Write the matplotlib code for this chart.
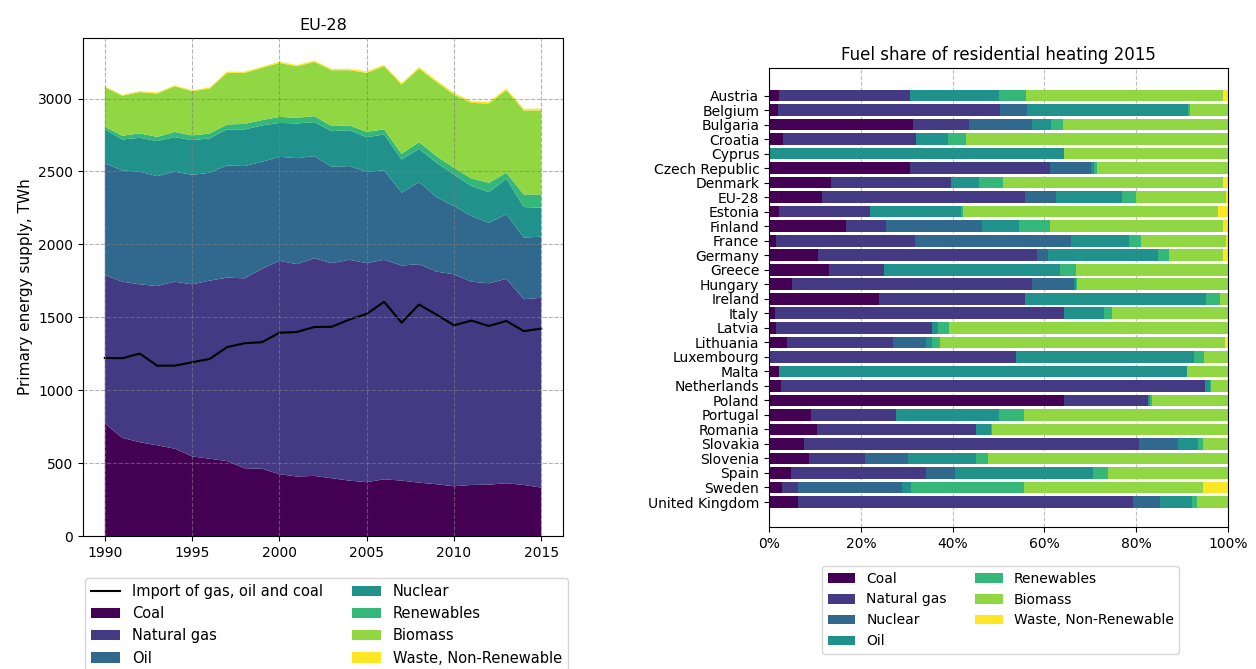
import matplotlib
matplotlib.use("Agg")
import matplotlib.pyplot as plt
import numpy as np
from matplotlib.ticker import PercentFormatter
from matplotlib.patches import Patch
from matplotlib.lines import Line2D

plt.rcParams['font.family'] = ['DejaVu Sans']

# ---- EU-28 primary energy supply (TWh) ----
years = list(range(1990, 2016))
coal = [772, 673, 643, 622, 599, 546, 530, 514, 465, 461, 424, 408, 412,
        396, 380, 369, 389, 380, 366, 355, 341, 350, 352, 362, 350, 332]
natural_gas = [1018, 1071, 1083, 1092, 1145, 1180, 1221, 1258, 1302, 1371, 1463, 1456, 1493,
               1475, 1514, 1502, 1505, 1475, 1498, 1458, 1454, 1394, 1381, 1401, 1274, 1302]
oil = [765, 763, 772, 754, 754, 751, 740, 769, 770, 734, 713, 727, 700,
       661, 643, 627, 613, 499, 563, 511, 468, 450, 415, 443, 422, 419]
nuclear = [233, 212, 233, 240, 237, 238, 235, 247, 251, 249, 233, 238, 233,
           244, 246, 237, 246, 228, 228, 235, 216, 206, 210, 244, 210, 198]
renewables = [18, 26, 30, 29, 36, 32, 34, 34, 38, 37, 41, 39, 41,
              35, 32, 37, 35, 39, 46, 46, 46, 52, 64, 41, 86, 91]
biomass = [272, 274, 283, 297, 313, 303, 308, 354, 350, 358, 370, 353, 372,
           383, 379, 404, 433, 475, 504, 509, 502, 518, 544, 566, 576, 576]
waste = [6, 6, 7, 7, 7, 7, 8, 8, 8, 8, 9, 9, 9,
         9, 10, 10, 10, 10, 11, 11, 11, 12, 12, 12, 12, 12]
imports = [1221, 1219, 1251, 1168, 1168, 1191, 1214, 1295, 1322, 1329, 1394, 1399, 1433,
           1435, 1484, 1523, 1606, 1463, 1587, 1518, 1445, 1477, 1440, 1475, 1405, 1422]

supply_labels = ["Coal", "Natural gas", "Oil", "Nuclear", "Renewables", "Biomass",
                 "Waste, Non-Renewable"]

# ---- Fuel share of residential heating 2015 (%) ----
countries = ["Austria", "Belgium", "Bulgaria", "Croatia", "Cyprus", "Czech Republic",
             "Denmark", "EU-28", "Estonia", "Finland", "France", "Germany", "Greece",
             "Hungary", "Ireland", "Italy", "Latvia", "Lithuania", "Luxembourg", "Malta",
             "Netherlands", "Poland", "Portugal", "Romania", "Slovakia", "Slovenia",
             "Spain", "Sweden", "United Kingdom"]
share_coal = [2.2, 1.9, 31.3, 3.1, 0, 30.8, 13.6, 11.5, 2.2, 16.8, 1.5, 10.7, 13.1, 5.1, 24.0,
              1.3, 1.5, 4.0, 0, 2.2, 2.5, 64.3, 9.1, 10.4, 7.7, 8.7, 4.8, 2.8, 6.4]
share_gas = [28.6, 48.5, 12.3, 28.9, 0, 30.4, 26.0, 44.2, 19.9, 8.6, 30.4, 47.7, 11.9, 52.1, 31.8,
             62.9, 34.1, 23.1, 53.7, 0, 92.4, 18.3, 18.5, 34.6, 72.9, 12.1, 29.4, 3.4, 72.8]
share_nuclear = [0, 5.7, 13.8, 0, 0, 9.0, 0, 6.8, 0, 20.9, 34.0, 2.4, 0, 9.3, 0,
                 0, 0, 7.0, 0, 0, 0, 0, 0, 0, 8.4, 9.4, 6.4, 22.8, 5.9]
share_oil = [19.3, 35.2, 4.0, 7.0, 64.2, 0.6, 6.2, 14.5, 19.7, 8.2, 12.5, 24.0, 38.4, 0.3, 39.5,
             8.7, 1.3, 1.5, 39.0, 88.9, 1.2, 0.5, 22.5, 3.3, 4.5, 14.8, 29.9, 1.9, 7.1]
share_renewables = [5.9, 0.4, 2.7, 4.0, 0, 0.7, 5.1, 2.9, 0.5, 6.7, 2.7, 2.4, 3.4, 0.3, 3.0,
                    1.8, 2.3, 1.6, 2.1, 0, 0.2, 0.4, 5.4, 0.3, 1.1, 2.6, 3.4, 24.7, 1.1]
share_biomass = [42.9, 8.3, 35.9, 57.0, 35.8, 28.5, 48.0, 19.6, 55.5, 37.7, 18.5, 11.7, 33.2,
                 32.9, 1.7, 25.3, 60.8, 62.1, 5.2, 8.9, 3.7, 16.5, 44.5, 51.4, 5.4, 52.4,
                 26.1, 39.0, 6.7]
share_waste = [1.1, 0, 0, 0, 0, 0, 1.1, 0.5, 2.2, 1.1, 0.4, 1.1, 0, 0, 0,
               0, 0, 0.7, 0, 0, 0, 0, 0, 0, 0, 0, 0, 5.4, 0]

share_labels = ["Coal", "Natural gas", "Nuclear", "Oil", "Renewables", "Biomass",
                "Waste, Non-Renewable"]

palette = [plt.cm.viridis(v) for v in np.linspace(0, 1, 7)]

fig = plt.figure(figsize=(12.56, 6.69), dpi=100)

# ---------- left: stacked supply ----------
ax1 = fig.add_axes([0.0661, 0.1988, 0.3822, 0.7444])
layers = [coal, natural_gas, oil, nuclear, renewables, biomass, waste]
ax1.stackplot(years, *layers, colors=palette, labels=supply_labels, linewidth=0)
ax1.plot(years, imports, color="black", linewidth=1.5)
ax1.set_xlim(1988.75, 2016.25)
ax1.set_ylim(0, 3415)
ax1.set_xticks([1990, 1995, 2000, 2005, 2010, 2015])
ax1.set_yticks([0, 500, 1000, 1500, 2000, 2500, 3000])
ax1.grid(True, linestyle="--", color="gray", alpha=0.6, linewidth=0.8)
ax1.set_axisbelow(False)
ax1.set_title("EU-28", fontsize=11.5)
ax1.set_ylabel("Primary energy supply, TWh", fontsize=11)
ax1.tick_params(labelsize=10)

handles1 = [Line2D([], [], color="black", linewidth=1.5)] + \
           [Patch(facecolor=c) for c in palette]
labels1 = ["Import of gas, oil and coal"] + supply_labels
fig.legend(handles1, labels1, ncol=2, loc="upper left",
           bbox_to_anchor=(85 / 1256, 1 - 578 / 669), fontsize=10.5,
           labelspacing=0.5, borderaxespad=0)

# ---------- right: fuel shares ----------
ax2 = fig.add_axes([0.6123, 0.2123, 0.3654, 0.6861])
ypos = np.arange(len(countries))
left = np.zeros(len(countries))
shares = [share_coal, share_gas, share_nuclear, share_oil, share_renewables,
          share_biomass, share_waste]
for vals, col, lab in zip(shares, palette, share_labels):
    vals = np.array(vals)
    ax2.barh(ypos, vals, left=left, height=0.8, color=col, label=lab)
    left += vals
ax2.set_yticks(ypos)
ax2.set_yticklabels(countries)
ax2.set_ylim(len(countries) - 1 + 1.72, -1.9)
ax2.set_xlim(0, 100)
ax2.set_xticks([0, 20, 40, 60, 80, 100])
ax2.xaxis.set_major_formatter(PercentFormatter(100, decimals=0))
ax2.grid(True, axis="x", linestyle="--", color="gray", alpha=0.5, linewidth=0.8)
ax2.set_axisbelow(True)
ax2.set_title("Fuel share of residential heating 2015", fontsize=12)
ax2.tick_params(labelsize=10)

ax2.legend(ncol=2, loc="upper left", bbox_to_anchor=(822 / 1256, 1 - 566 / 669),
           bbox_transform=fig.transFigure, fontsize=10, borderaxespad=0)

fig.savefig("out.png", dpi=100)
